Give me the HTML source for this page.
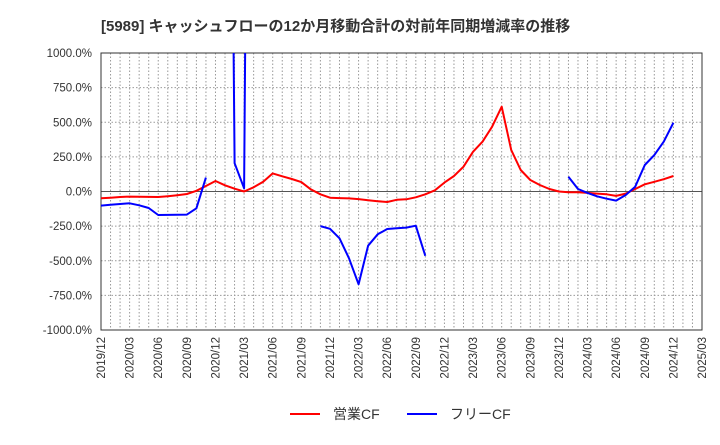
<!DOCTYPE html>
<html><head><meta charset="utf-8"><style>
body{margin:0;background:#fff;font-family:"Liberation Sans","Noto Sans CJK JP",sans-serif}
</style></head><body>
<svg id="c" width="720" height="440" font-family="Liberation Sans, Noto Sans CJK JP, sans-serif">
<text x="101" y="31" font-size="15" font-weight="bold" fill="#333">[5989]  キャッシュフローの12か月移動合計の対前年同期増減率の推移</text>
<g id="grid"></g><g id="axes"></g><g id="series" clip-path="url(#clip)"></g>
<defs><clipPath id="clip"><rect x="101" y="53" width="601" height="277"/></clipPath></defs>
<g>
<line x1="290" y1="414" x2="320" y2="414" stroke="#f00" stroke-width="2"/>
<text x="333" y="419" font-size="14" fill="#333">営業CF</text>
<line x1="407" y1="414" x2="437" y2="414" stroke="#00f" stroke-width="2"/>
<text x="450" y="419" font-size="14" fill="#333">フリーCF</text>
</g>
</svg>
<script>
const yTicks=[1000,750,500,250,0,-250,-500,-750,-1000];
const xLabels=["2019/12","2020/03","2020/06","2020/09","2020/12","2021/03","2021/06","2021/09","2021/12","2022/03","2022/06","2022/09","2022/12","2023/03","2023/06","2023/09","2023/12","2024/03","2024/06","2024/09","2024/12","2025/03"];
const operatingCF=[-49,-45,-40,-37,-38,-39,-40,-34,-27,-18,5,40,76,45,20,0,30,70,131,110,90,68,15,-20,-45,-48,-50,-55,-63,-70,-76,-60,-56,-42,-20,9,64,112,179,287,360,468,612,300,155,83,47,18,0,-5,-5,-10,-15,-20,-32,-15,18,52,70,89,112];
const freeCF=[-102,-96,-90,-85,-100,-119,-170,-169,-168,-167,-121,100,null,8000,204,23,9000,null,null,null,null,null,null,-250,-269,-338,-482,-670,-391,-309,-271,-265,-261,-247,-464,null,null,null,null,null,null,null,null,null,null,null,null,null,null,107,18,-10,-35,-52,-66,-25,35,191,263,360,497];
const X0=101,X1=702,Y0=53,Y1=330,NM=63;
const xs=i=>X0+(X1-X0)*i/NM;
const ys=v=>Y1-(v+1000)/2000*(Y1-Y0);
const NS="http://www.w3.org/2000/svg";
function mk(p,t,a){const e=document.createElementNS(NS,t);for(const k in a)e.setAttribute(k,a[k]);p.appendChild(e);return e;}
const grid=document.getElementById('grid'),axes=document.getElementById('axes'),ser=document.getElementById('series');
for(let m=1;m<NM;m++){const l=mk(grid,'line',{x1:xs(m),x2:xs(m),y1:Y0,y2:Y1,stroke:'#999','stroke-dasharray':'1.5,2','stroke-width':1});

}
yTicks.forEach(v=>{const y=ys(v);
const l=mk(grid,'line',{x1:X0,x2:X1,y1:y,y2:y,stroke:v===0?'#555':'#999','stroke-dasharray':v===0?'':'1.5,2','stroke-width':1});


const t=mk(axes,'text',{x:92,y:y+4,'text-anchor':'end','font-size':11.5,fill:'#333'});t.textContent=v.toFixed(1)+'%';

});
const fr=mk(axes,'rect',{x:X0,y:Y0,width:X1-X0,height:Y1-Y0,fill:'none',stroke:'#333'});


xLabels.forEach((s,k)=>{const x=xs(k*3);
const t=mk(axes,'text',{x:0,y:0,transform:`translate(${x+4},${Y1+7}) rotate(-90)`,'text-anchor':'end','font-size':11.5,fill:'#333'});t.textContent=s;

});
function draw(data,color,name){let segs=[],cur=[];
data.forEach((v,i)=>{if(v===null){if(cur.length)segs.push(cur);cur=[];}else cur.push(xs(i).toFixed(1)+','+ys(v).toFixed(1));});
if(cur.length)segs.push(cur);
segs.forEach(s=>{const p=mk(ser,'polyline',{points:s.join(' '),fill:'none',stroke:color,'stroke-width':2,'stroke-linejoin':'round'});

});}
draw(operatingCF,'#f00','operating-cf-line');
draw(freeCF,'#00f','free-cf-line');
</script>
</body></html>
